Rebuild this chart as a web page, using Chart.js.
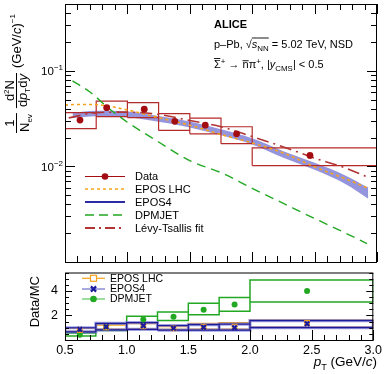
<!DOCTYPE html>
<html>
<head>
<meta charset="utf-8">
<script src="https://cdn.jsdelivr.net/npm/chart.js@4.4.0/dist/chart.umd.min.js"></script>
<style>
  html, body { margin: 0; padding: 0; background: #fff; }
  #wrap { position: relative; width: 385px; height: 374px; overflow: hidden; }
  #topChart { position: absolute; left: 0; top: 0; }
  #ratioChart { position: absolute; left: 0; top: 258px; }
</style>
</head>
<body>
<div id="wrap">
  <canvas id="topChart" width="385" height="266"></canvas>
  <canvas id="ratioChart" width="385" height="116"></canvas>
</div>
<script>
// ---- data ----
const binLo = [0.5, 0.75, 1.0, 1.25, 1.5, 1.75, 2.0];
const binHi = [0.75, 1.0, 1.25, 1.5, 1.75, 2.0, 3.0];
const ptMean = [0.62, 0.834, 1.135, 1.38, 1.624, 1.875, 2.463];

const dataY = [0.0305, 0.0412, 0.0396, 0.0296, 0.0270, 0.0219, 0.0130];
const dataSysLo = [0.0249, 0.0331, 0.0324, 0.0238, 0.0219, 0.0173, 0.0102];
const dataSysHi = [0.0365, 0.0483, 0.0465, 0.0356, 0.0320, 0.0260, 0.0156];

const eposLhcX = [0.5, 0.6, 0.75, 1.0, 1.25, 1.5, 1.75, 2.0, 2.25, 2.5, 2.75, 2.93];
const eposLhcY = [0.0438, 0.0445, 0.0443, 0.0389, 0.0324, 0.0270, 0.0216, 0.0176, 0.0138, 0.0099, 0.0074, 0.0059];

const epos4X = [0.56, 0.75, 1.0, 1.25, 1.5, 1.75, 2.0, 2.25, 2.5, 2.75, 2.93];
const epos4Hi = [0.0365, 0.0383, 0.0375, 0.0337, 0.0295, 0.0245, 0.0197, 0.0144, 0.0109, 0.0080, 0.0060];
const epos4Lo = [0.0320, 0.0335, 0.0327, 0.0293, 0.0256, 0.0212, 0.0170, 0.0123, 0.0092, 0.0065, 0.0046];

const dpmjetX = [0.56, 0.7, 0.86, 1.0, 1.25, 1.5, 1.75, 2.0, 2.25, 2.5, 2.75, 2.92];
const dpmjetY = [0.0785, 0.0600, 0.0396, 0.0290, 0.0180, 0.0115, 0.0086, 0.0059, 0.0041, 0.00285, 0.0020, 0.00156];

const levyX = [0.53, 0.75, 1.0, 1.25, 1.5, 1.75, 2.0, 2.25, 2.5, 2.75, 2.93];
const levyY = [0.0322, 0.0365, 0.0370, 0.0350, 0.0302, 0.0260, 0.0205, 0.0160, 0.0122, 0.0096, 0.0077];

// Data/MC ratios
const ratioEposLhc = [0.80, 1.02, 1.10, 0.95, 1.07, 1.10, 1.40];
const ratioEposLhcLo = [0.70, 0.88, 0.90, 0.85, 0.87, 0.87, 1.06];
const ratioEposLhcHi = [0.95, 1.22, 1.35, 1.10, 1.34, 1.41, 1.63];

const ratioEpos4 = [0.87, 1.08, 1.17, 0.96, 1.03, 1.00, 1.32];
const ratioEpos4Lo = [0.66, 0.83, 0.87, 0.80, 0.80, 0.80, 1.01];
const ratioEpos4Hi = [1.00, 1.36, 1.41, 1.18, 1.25, 1.29, 1.58];

const ratioDpmjet = [0.43, 1.05, 1.67, 1.90, 2.46, 2.89, 4.00];
const ratioDpmjetLo = [0.33, 0.78, 1.38, 1.58, 2.06, 2.35, 3.10];
const ratioDpmjetHi = [0.57, 1.28, 1.93, 2.28, 2.99, 3.46, 4.89];

// axis ticks
const xMajor = [0.5, 1, 1.5, 2, 2.5, 3];
const logDecades = [0.001, 0.01, 0.1];
const logLabels = [{ v: 0.1, exp: '\u22121' }, { v: 0.01, exp: '\u22122' }];

// ---- styles ----
const FONT = '"Liberation Sans", Arial, Helvetica, sans-serif';
const RED = '#a30d12';
const BOXRED = '#b52a2a';
const ORANGE = '#f7a21b';
const BAND = 'rgba(130,130,215,0.85)';
const BLUE = '#1b1b9c';
const GREEN = '#22a822';
const LEVY = '#b23434';

// ---- helpers ----
function pts(xs, ys) {
  return xs.map((x, i) => ({ x: x, y: ys[i] }));
}

// rectangles as one dataset, separated by gaps
function boxes(lo, hi, ylo, yhi) {
  const out = [];
  for (let i = 0; i < lo.length; i++) {
    out.push({ x: lo[i], y: ylo[i] }, { x: lo[i], y: yhi[i] }, { x: hi[i], y: yhi[i] },
             { x: hi[i], y: ylo[i] }, { x: lo[i], y: ylo[i] }, { x: hi[i], y: null });
  }
  return out;
}

function range(a, b, step) {
  const out = [];
  for (let v = a; v <= b + 1e-9; v += step) out.push(Math.round(v * 1000) / 1000);
  return out;
}

function drawRich(ctx, x, y, parts, base, measureOnly) {
  let cx = x;
  for (const p of parts) {
    const size = base * (p.s || 1);
    ctx.font = (p.i ? 'italic ' : '') + (p.b ? 'bold ' : '') + size + 'px ' + FONT;
    const w = ctx.measureText(p.t).width;
    if (!measureOnly) {
      ctx.fillText(p.t, cx, y + (p.dy || 0));
      if (p.o) {
        ctx.fillRect(cx, y - p.o * base, w + (p.ow || 0), 0.9);
      }
    }
    cx += w + (p.g || 0);
  }
  return cx - x;
}

// ROOT-like frame with inward ticks
function framePlugin(cfg) {
  return {
    id: 'rootFrame',
    afterDatasetsDraw(chart) {
      const { ctx, chartArea: a, scales } = chart;
      const sx = scales.x, sy = scales.y;
      ctx.save();
      ctx.strokeStyle = '#000';
      ctx.lineWidth = 1;
      ctx.beginPath();
      const xt = (vals, len) => vals.forEach(v => {
        const p = Math.round(sx.getPixelForValue(v)) + 0.5;
        ctx.moveTo(p, a.bottom); ctx.lineTo(p, a.bottom - len);
        if (cfg.xTop) { ctx.moveTo(p, a.top); ctx.lineTo(p, a.top + len); }
      });
      const yt = (vals, len) => vals.forEach(v => {
        const p = Math.round(sy.getPixelForValue(v)) + 0.5;
        ctx.moveTo(a.left, p); ctx.lineTo(a.left + len, p);
        ctx.moveTo(a.right, p); ctx.lineTo(a.right - len, p);
      });
      xt(cfg.xMinor, cfg.xLen[1]);
      xt(cfg.xMajor, cfg.xLen[0]);
      yt(cfg.yMinor, cfg.yLen[1]);
      yt(cfg.yMajor, cfg.yLen[0]);
      ctx.stroke();
      ctx.strokeRect(a.left + 0.5, a.top + 0.5, a.right - a.left - 1, a.bottom - a.top);
      ctx.restore();
    }
  };
}

function legendRow(ctx, y, x0, x1, tx, e, font) {
  ctx.save();
  ctx.strokeStyle = e.color;
  ctx.lineWidth = e.width;
  ctx.setLineDash(e.dash || []);
  ctx.beginPath();
  ctx.moveTo(x0, y); ctx.lineTo(x1, y);
  ctx.stroke();
  ctx.setLineDash([]);
  const mx = (x0 + x1) / 2;
  if (e.marker === 'circle') {
    ctx.fillStyle = e.mcolor || e.color;
    ctx.beginPath(); ctx.arc(mx, y, 3.3, 0, Math.PI * 2); ctx.fill();
  } else if (e.marker === 'square') {
    ctx.fillStyle = '#fff';
    ctx.strokeStyle = e.mcolor;
    ctx.lineWidth = 1.2;
    ctx.fillRect(mx - 3, y - 3, 6, 6);
    ctx.strokeRect(mx - 3, y - 3, 6, 6);
  } else if (e.marker === 'cross') {
    ctx.strokeStyle = e.mcolor;
    ctx.lineWidth = 2.2;
    ctx.beginPath();
    ctx.moveTo(mx - 2.6, y - 2.6); ctx.lineTo(mx + 2.6, y + 2.6);
    ctx.moveTo(mx + 2.6, y - 2.6); ctx.lineTo(mx - 2.6, y + 2.6);
    ctx.stroke();
  }
  ctx.fillStyle = '#000';
  ctx.font = font;
  ctx.textBaseline = 'middle';
  ctx.fillText(e.label, tx, y + 0.5);
  ctx.restore();
}

// ---- top panel decorations ----
const topDecor = {
  id: 'topDecor',
  afterDraw(chart) {
    const ctx = chart.ctx;
    const sy = chart.scales.y;
    ctx.save();
    ctx.fillStyle = '#000';
    ctx.textBaseline = 'alphabetic';

    // log-axis labels 10^-1, 10^-2
    logLabels.forEach(l => {
      const py = sy.getPixelForValue(l.v);
      ctx.font = '11.5px ' + FONT;
      const w10 = ctx.measureText('10').width;
      ctx.font = '8px ' + FONT;
      const we = ctx.measureText(l.exp).width;
      const right = 63;
      ctx.fillText(l.exp, right - we, py - 0.5);
      ctx.font = '11.5px ' + FONT;
      ctx.fillText('10', right - we - w10, py + 4.2);
    });

    // texts
    drawRich(ctx, 214, 27.5, [{ t: 'ALICE', b: 1 }], 11);
    drawRich(ctx, 214, 48, [
      { t: 'p\u2013Pb, ' }, { t: '\u221A' }, { t: 's', i: 1, o: 0.95 },
      { t: 'NN', s: 0.72, dy: 3, o: 0.95 }, { t: ' = 5.02 TeV, NSD' }], 11);
    drawRich(ctx, 214, 68, [
      { t: '\u03A3', o: 0.9, ow: -0.5 }, { t: '+', s: 0.72, dy: -4.5 }, { t: ' \u2192 ' },
      { t: 'n', o: 0.7 }, { t: '\u03C0' }, { t: '+', s: 0.72, dy: -4.5 }, { t: ', |' },
      { t: 'y', i: 1 }, { t: 'CMS', s: 0.72, dy: 3 }, { t: '| < 0.5' }], 11);

    // legend
    const lf = '11px ' + FONT;
    const rows = [
      { label: 'Data', color: RED, width: 1, marker: 'circle' },
      { label: 'EPOS LHC', color: ORANGE, width: 1.5, dash: [3, 3] },
      { label: 'EPOS4', color: '#2b2ba6', width: 2 },
      { label: 'DPMJET', color: GREEN, width: 1.5, dash: [9, 5] },
      { label: 'L\u00E9vy-Tsallis fit', color: LEVY, width: 1.8, dash: [10, 4, 2, 4] }
    ];
    const rowY = [176.5, 189, 202, 215, 228];
    rows.forEach((e, i) => legendRow(ctx, rowY[i], 85, 125, 135, e, lf));

    // y title, rotated
    const base = 13;
    ctx.translate(16.5, 133);
    ctx.rotate(-Math.PI / 2);
    ctx.fillStyle = '#000';
    let u = 0;
    const num1 = [{ t: '1' }];
    const den1 = [{ t: 'N' }, { t: 'ev', s: 0.62, dy: 3 }];
    const wn1 = drawRich(ctx, 0, 0, num1, base, true);
    const wd1 = drawRich(ctx, 0, 0, den1, base, true);
    const f1 = Math.max(wn1, wd1) + 2;
    ctx.fillRect(u, -0.5, f1, 1);
    drawRich(ctx, u + (f1 - wn1) / 2, -2.5, num1, base);
    drawRich(ctx, u + (f1 - wd1) / 2, 12, den1, base);
    u += f1 + 5;
    const num2 = [{ t: 'd' }, { t: '2', s: 0.62, dy: -5 }, { t: 'N' }];
    const den2 = [{ t: 'd' }, { t: 'p', i: 1 }, { t: 'T', s: 0.62, dy: 3 }, { t: 'd' }, { t: 'y', i: 1 }];
    const wn2 = drawRich(ctx, 0, 0, num2, base, true);
    const wd2 = drawRich(ctx, 0, 0, den2, base, true);
    const f2 = Math.max(wn2, wd2) + 2;
    ctx.fillRect(u, -0.5, f2, 1);
    drawRich(ctx, u + (f2 - wn2) / 2, -2.5, num2, base);
    drawRich(ctx, u + (f2 - wd2) / 2, 10.5, den2, base);
    u += f2 + 5;
    drawRich(ctx, u, 4.5, [{ t: '(GeV/' }, { t: 'c', i: 1 }, { t: ')' }, { t: '\u22121', s: 0.62, dy: -6 }], base);
    ctx.restore();
  }
};

// ---- ratio panel decorations ----
const ratioDecor = {
  id: 'ratioDecor',
  afterDraw(chart) {
    const ctx = chart.ctx;
    ctx.save();
    ctx.fillStyle = '#000';
    // x title
    const xt = [{ t: 'p', i: 1 }, { t: 'T', s: 0.68, dy: 4 }, { t: ' (GeV/' }, { t: 'c', i: 1 }, { t: ')' }];
    const w = drawRich(ctx, 0, 0, xt, 13.5, true);
    drawRich(ctx, 377 - w, 108, xt, 13.5);
    // legend
    const lf = '10.5px ' + FONT;
    const rows = [
      { label: 'EPOS LHC', color: ORANGE, width: 1.2, marker: 'square', mcolor: ORANGE },
      { label: 'EPOS4', color: '#6f6fd0', width: 1.2, marker: 'cross', mcolor: BLUE },
      { label: 'DPMJET', color: '#5cc45c', width: 1.2, marker: 'circle', mcolor: GREEN }
    ];
    const rowY = [20.3, 31, 41];
    rows.forEach((e, i) => legendRow(ctx, rowY[i], 82, 105, 110, e, lf));
    // y title
    ctx.translate(39, 43.7);
    ctx.rotate(-Math.PI / 2);
    ctx.font = '13px ' + FONT;
    ctx.textAlign = 'center';
    ctx.fillText('Data/MC', 0, 0);
    ctx.restore();
  }
};

const topMinorY = [];
logDecades.forEach(d => { for (let k = 2; k <= 9; k++) if (d * k <= 0.5) topMinorY.push(d * k); });

const topChart = new Chart(document.getElementById('topChart'), {
  type: 'line',
  data: {
    datasets: [
      { label: 'Data', data: pts(ptMean, dataY), showLine: false, pointRadius: 3.4,
        pointBackgroundColor: RED, pointBorderColor: RED, pointBorderWidth: 0 },
      { label: 'L\u00E9vy-Tsallis fit', data: pts(levyX, levyY), borderColor: LEVY, borderWidth: 1.6,
        borderDash: [12, 5, 2, 5], pointRadius: 0, cubicInterpolationMode: 'monotone' },
      { label: 'EPOS LHC', data: pts(eposLhcX, eposLhcY), borderColor: ORANGE, borderWidth: 1.6,
        borderDash: [3, 3], pointRadius: 0, cubicInterpolationMode: 'monotone' },
      { label: 'DPMJET', data: pts(dpmjetX, dpmjetY), borderColor: GREEN, borderWidth: 1.4,
        borderDash: [9, 6], pointRadius: 0, cubicInterpolationMode: 'monotone' },
      { label: 'Data syst.', data: boxes(binLo, binHi, dataSysLo, dataSysHi), borderColor: BOXRED,
        borderWidth: 1.2, pointRadius: 0, tension: 0, spanGaps: false },
      { label: 'EPOS4 hi', data: pts(epos4X, epos4Hi), borderWidth: 0, borderColor: BAND,
        pointRadius: 0, cubicInterpolationMode: 'monotone' },
      { label: 'EPOS4', data: pts(epos4X, epos4Lo), borderWidth: 0, borderColor: BAND,
        backgroundColor: BAND, fill: '-1', pointRadius: 0, cubicInterpolationMode: 'monotone' }
    ]
  },
  options: {
    responsive: false,
    animation: false,
    events: [],
    layout: { padding: { left: 65, right: 8, top: 4, bottom: 4 } },
    scales: {
      x: { type: 'linear', min: 0.5, max: 3, display: false },
      y: { type: 'logarithmic', min: 0.001, max: 0.5, display: false }
    },
    plugins: { legend: { display: false }, tooltip: { enabled: false }, filler: { propagate: false } }
  },
  plugins: [
    framePlugin({ xMajor: xMajor, xMinor: range(0.5, 3, 0.1), xLen: [10, 6], xTop: true,
                  yMajor: logDecades, yMinor: topMinorY, yLen: [10, 6] }),
    topDecor
  ]
});

const ratioChart = new Chart(document.getElementById('ratioChart'), {
  type: 'line',
  data: {
    datasets: [
      { label: 'EPOS4', data: pts(ptMean, ratioEpos4), showLine: false, pointStyle: 'crossRot',
        pointRadius: 3.2, pointBorderWidth: 2.2, pointBorderColor: BLUE },
      { label: 'EPOS LHC', data: pts(ptMean, ratioEposLhc), showLine: false, pointStyle: 'rect',
        pointRadius: 3.2, pointBorderWidth: 1.2, pointBorderColor: ORANGE, pointBackgroundColor: 'rgba(255,255,255,0)' },
      { label: 'DPMJET', data: pts(ptMean, ratioDpmjet), showLine: false, pointRadius: 3,
        pointBorderWidth: 0, pointBackgroundColor: GREEN },
      { label: 'EPOS4 syst.', data: boxes(binLo, binHi, ratioEpos4Lo, ratioEpos4Hi), borderColor: BLUE,
        borderWidth: 1.2, pointRadius: 0, tension: 0 },
      { label: 'EPOS4 syst. halo', data: boxes(binLo, binHi, ratioEpos4Lo, ratioEpos4Hi), borderColor: 'rgba(120,120,215,0.7)',
        borderWidth: 3.2, pointRadius: 0, tension: 0 },
      { label: 'EPOS LHC syst.', data: boxes(binLo, binHi, ratioEposLhcLo, ratioEposLhcHi), borderColor: ORANGE,
        borderWidth: 1.4, pointRadius: 0, tension: 0 },
      { label: 'DPMJET syst.', data: boxes(binLo, binHi, ratioDpmjetLo, ratioDpmjetHi), borderColor: GREEN,
        borderWidth: 1.5, pointRadius: 0, tension: 0 }
    ]
  },
  options: {
    responsive: false,
    animation: false,
    events: [],
    layout: { padding: { left: 0, right: 8, top: 4, bottom: 0 } },
    scales: {
      x: {
        type: 'linear', min: 0.5, max: 3,
        grid: { display: false, drawTicks: false },
        border: { display: false },
        ticks: { stepSize: 0.5, padding: 3, color: '#000', font: { family: FONT, size: 12.5 }, maxRotation: 0 },
        afterFit: s => { s.height = 34; }
      },
      y: {
        type: 'linear', min: 0, max: 5.5,
        grid: { display: false, drawTicks: false },
        border: { display: false },
        ticks: { stepSize: 2, includeBounds: false, padding: 7, color: '#000', font: { family: FONT, size: 12.5 },
                 callback: v => (v === 0 ? '' : v) },
        afterFit: s => { s.width = 65; }
      }
    },
    plugins: { legend: { display: false }, tooltip: { enabled: false } }
  },
  plugins: [
    framePlugin({ xMajor: xMajor, xMinor: range(0.5, 3, 0.1), xLen: [10, 5], xTop: false,
                  yMajor: [0, 2, 4], yMinor: range(0, 5.5, 0.5), yLen: [7, 4] }),
    ratioDecor
  ]
});
</script>
</body>
</html>
